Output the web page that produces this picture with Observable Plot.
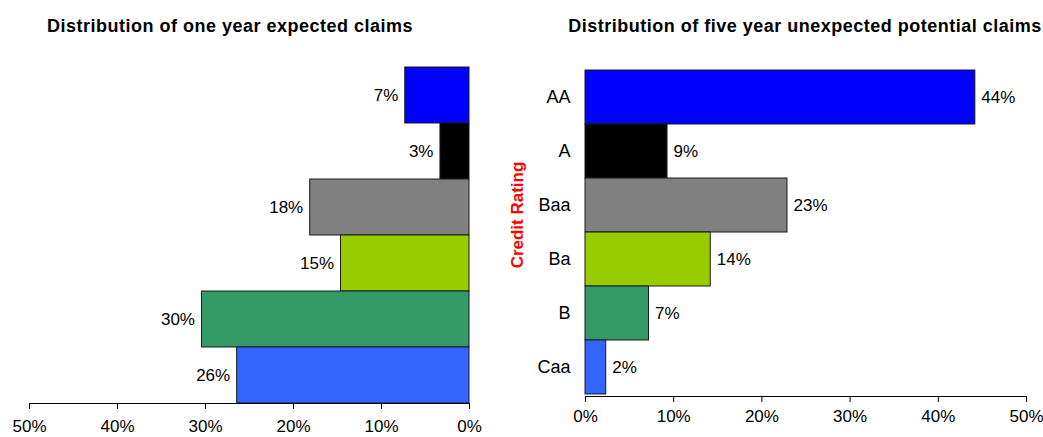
<!DOCTYPE html>
<html>
<head>
<meta charset="utf-8">
<script src="https://cdn.jsdelivr.net/npm/d3@7"></script>
<script src="https://cdn.jsdelivr.net/npm/@observablehq/plot@0.6"></script>
<style>
  html, body { margin: 0; padding: 0; background: #fff; }
  #page { position: relative; width: 1043px; height: 437px; overflow: hidden;
          font-family: "Liberation Sans", Arial, sans-serif; }
  .title { position: absolute; top: 16px; font-weight: bold; font-size: 18px;
           letter-spacing: 0.5px; white-space: nowrap; transform: translateX(-50%); color: #000; }
  .panel { position: absolute; top: 50px; }
  #ylabel { position: absolute; left: 518px; top: 215px; color: #ff0000;
            font-weight: bold; font-size: 17px; white-space: nowrap;
            transform: translate(-50%, -50%) rotate(-90deg); }
</style>
</head>
<body>
<div id="page">
  <div class="title" style="left:230px">Distribution of one year expected claims</div>
  <div class="title" style="left:805px">Distribution of five year unexpected potential claims</div>
  <div id="left" class="panel" style="left:0px"></div>
  <div id="right" class="panel" style="left:520px"></div>
  <div id="ylabel">Credit Rating</div>
</div>
<script>
// Credit rating buckets, top to bottom
const ratings = ["AA", "A", "Baa", "Ba", "B", "Caa"];
// Share of one-year expected claims by rating
const oneYearExpected = [0.073, 0.033, 0.181, 0.146, 0.304, 0.264];
// Share of five-year unexpected potential claims by rating
const fiveYearUnexpected = [0.442, 0.093, 0.229, 0.142, 0.072, 0.0235];
// Bar fill per rating
const ratingColors = ["#0000FF", "#000000", "#808080", "#99CC00", "#339966", "#3366FF"];
// Axis ticks
const pctTicks = [0, 0.1, 0.2, 0.3, 0.4, 0.5];

const pct = d3.format(".0%");
const font = "Liberation Sans, Arial, sans-serif";

const leftRows = ratings.map((r, i) => ({rating: r, value: oneYearExpected[i]}));
const rightRows = ratings.map((r, i) => ({rating: r, value: fiveYearUnexpected[i]}));

const colorScale = {type: "ordinal", domain: ratings, range: ratingColors};

// Left panel: bars grow leftwards from 0%
const left = Plot.plot({
  width: 520,
  height: 387,
  marginLeft: 29,
  marginRight: 51,
  marginTop: 17,
  marginBottom: 34,
  style: {fontFamily: font, fontSize: "17px", color: "#000", background: "transparent"},
  x: {domain: [0, 0.5], reverse: true, ticks: pctTicks, tickFormat: pct, label: null},
  y: {domain: ratings, padding: 0, axis: null},
  color: colorScale,
  marks: [
    Plot.barX(leftRows, {x: "value", y: "rating", fill: "rating", stroke: "#1a1a1a", strokeWidth: 1}),
    Plot.text(leftRows, {x: "value", y: "rating", text: d => pct(d.value), textAnchor: "end", dx: -7, fontSize: 17, fill: "#000"}),
    Plot.frame({anchor: "bottom", stroke: "#000"}),
    Plot.axisX({ticks: pctTicks, tickFormat: pct, tickSize: 6, tickPadding: 10, fontSize: 17, label: null})
  ]
});
document.getElementById("left").appendChild(left);

// Right panel: bars grow rightwards with rating labels
const right = Plot.plot({
  width: 523,
  height: 387,
  marginLeft: 65,
  marginRight: 17,
  marginTop: 17,
  marginBottom: 41,
  style: {fontFamily: font, fontSize: "17px", color: "#000", background: "transparent"},
  x: {domain: [0, 0.5], ticks: pctTicks, tickFormat: pct, label: null},
  y: {domain: ratings, padding: 0},
  color: colorScale,
  marks: [
    Plot.barX(rightRows, {x: "value", y: "rating", fill: "rating", stroke: "#1a1a1a", strokeWidth: 1}),
    Plot.text(rightRows, {x: "value", y: "rating", text: d => pct(d.value), textAnchor: "start", dx: 6, fontSize: 17, fill: "#000"}),
    Plot.frame({anchor: "bottom", stroke: "#000"}),
    Plot.axisX({ticks: pctTicks, tickFormat: pct, tickSize: 6, tickPadding: 7, fontSize: 17, label: null}),
    Plot.axisY({tickSize: 0, tickPadding: 15, fontSize: 18, label: null})
  ]
});
document.getElementById("right").appendChild(right);
</script>
</body>
</html>
